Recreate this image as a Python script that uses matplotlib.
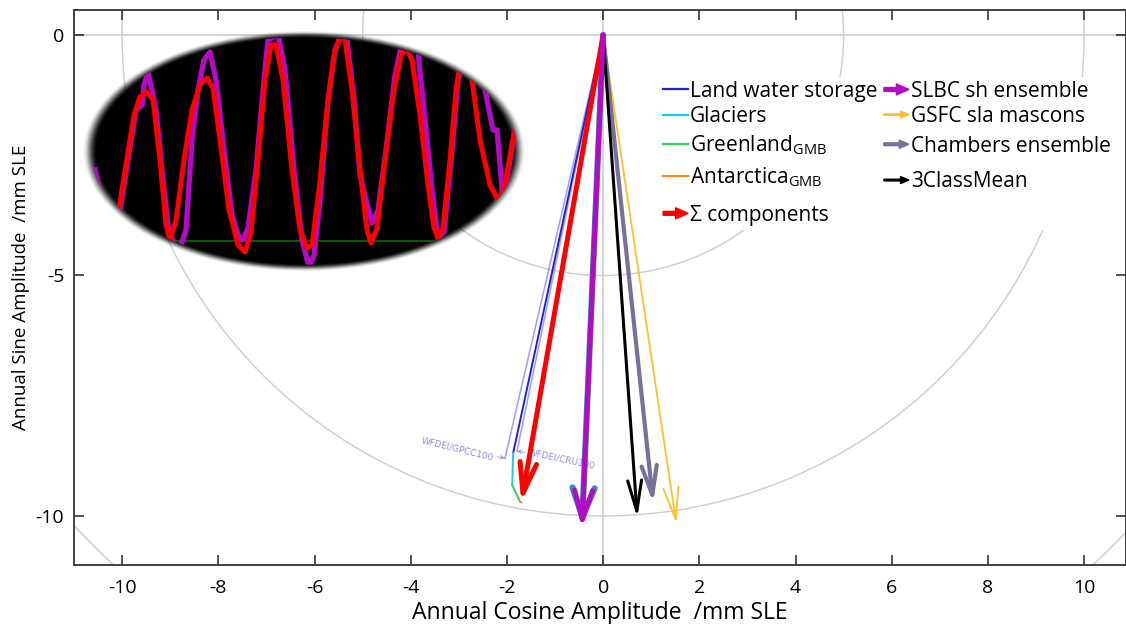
import matplotlib
matplotlib.use('Agg')
import matplotlib.pyplot as plt
import numpy as np
from matplotlib.patches import Circle, Ellipse, FancyArrowPatch, FancyArrow
from matplotlib.lines import Line2D
from matplotlib.legend_handler import HandlerBase, HandlerLine2D

plt.rcParams['font.family'] = ['Open Sans', 'DejaVu Sans']
plt.rcParams['mathtext.fontset'] = 'custom'
plt.rcParams['mathtext.rm'] = 'Open Sans'
plt.rcParams['axes.unicode_minus'] = False

# budget components, chained head to tail (cos, sin amplitude, mm SLE)
chain_names = ['Land water storage', 'Glaciers',
               'Greenland$_{\\mathrm{GMB}}$', 'Antarctica$_{\\mathrm{GMB}}$']
chain_x = [0.0, -1.87, -1.89, -1.73, -1.70]
chain_y = [0.0, -8.69, -9.36, -9.70, -9.72]
chain_colors = ['#2323c8', '#1ec8f0', '#2ed15c', '#ff8a24']

# land water storage variants
lws_names = ['WFDEI/GPCC100', 'WFDEI/CRU100']
lws_x = [-2.04, -1.79]
lws_y = [-8.80, -8.65]

# summed components and observations
arrow_names = ['\u03a3 components', 'SLBC sh ensemble', 'GSFC sla mascons',
               'Chambers ensemble', '3ClassMean']
arrow_x = [-1.70, -0.44, 1.52, 1.04, 0.71]
arrow_y = [-9.72, -10.25, -10.15, -9.73, -10.04]
arrow_colors = ['#ff0000', '#b40ac4', '#fcc02e', '#77709c', '#000000']

ring_radii = [5, 10, 15]
xticks = [-10, -8, -6, -4, -2, 0, 2, 4, 6, 8, 10]
yticks = [-10, -5, 0]

# inset (magnified time series), in inset pixel units
red_t = [112, 118, 126, 134, 140, 147, 153, 160, 166, 170, 176, 184, 192, 200, 207, 213, 220, 229,
         238, 245, 251, 258, 265, 271, 276, 283, 292, 300, 307, 312, 319, 327, 334, 340, 345, 352,
         360, 367, 371, 377, 385, 394, 401, 406, 412, 420, 428, 434, 438, 443, 450, 456, 461, 466,
         472, 480, 490, 498, 504, 511, 518, 526]
red_v = [250, 215, 165, 115, 97, 92, 100, 160, 225, 240, 220, 160, 110, 85, 78, 88, 140, 210,
         245, 252, 232, 160, 80, 45, 45, 80, 170, 230, 248, 245, 190, 110, 55, 37, 40, 90,
         170, 230, 243, 228, 160, 90, 55, 48, 60, 115, 185, 228, 238, 228, 160, 90, 58, 52,
         80, 140, 185, 200, 190, 150, 112, 80]
mag_t = [95, 100, 108, 115, 120, 128, 136, 142, 144, 148, 152, 156, 162, 168, 174, 180, 186, 192,
         198, 204, 210, 216, 224, 232, 238, 243, 248, 256, 264, 268, 278, 285, 294, 302, 309, 314,
         320, 328, 335, 341, 347, 354, 360, 366, 372, 378, 386, 395, 402, 410, 418, 424, 432, 438,
         444, 452, 458, 466, 476, 483, 493, 497, 503, 510, 518, 526]
mag_v = [170, 190, 235, 240, 210, 160, 110, 105, 85, 73, 90, 110, 170, 225, 245, 248, 230, 140,
         90, 60, 52, 80, 150, 215, 235, 240, 228, 170, 80, 40, 35, 70, 170, 240, 267, 255,
         200, 100, 50, 35, 40, 100, 175, 200, 223, 210, 150, 75, 43, 42, 52, 110, 190, 238,
         232, 150, 80, 50, 60, 80, 130, 130, 200, 160, 110, 80]
green_t = [170, 440]
green_v = [241, 241]


def pad_box(handlebox, fontsize, up, down):
    # make a legend row taller, like the MATLAB legend does for subscripts
    handlebox.height += (up + down) * fontsize
    handlebox.ydescent += down * fontsize


class LineHandler(HandlerLine2D):
    def __init__(self, up=0.0, down=0.0):
        super().__init__()
        self.up, self.down = up, down

    def legend_artist(self, legend, orig_handle, fontsize, handlebox):
        art = super().legend_artist(legend, orig_handle, fontsize, handlebox)
        pad_box(handlebox, fontsize, self.up, self.down)
        return art


class ArrowHandler(HandlerBase):
    def __init__(self, lw, hw, hl, up=0.0, down=0.0):
        super().__init__()
        self.lw, self.hw, self.hl, self.up, self.down = lw, hw, hl, up, down

    def create_artists(self, legend, orig_handle, xdescent, ydescent,
                       width, height, fontsize, trans):
        y = (height - ydescent) / 2
        a = FancyArrow(-xdescent, y, width, 0, width=self.lw, head_width=self.hw,
                       head_length=self.hl, length_includes_head=True,
                       color=orig_handle.get_color(), transform=trans)
        return [a]

    def legend_artist(self, legend, orig_handle, fontsize, handlebox):
        art = super().legend_artist(legend, orig_handle, fontsize, handlebox)
        pad_box(handlebox, fontsize, self.up, self.down)
        return art


W, H = 1126, 624
fig = plt.figure(figsize=(W / 100, H / 100), dpi=100)
ax = fig.add_axes([74 / W, 1 - 565 / H, 1052 / W, 555 / H])
ax.set_xlim(-11.0, 10.87)
ax.set_ylim(-11.02, 0.52)

grid_c = '#d0d0d0'
ax.axhline(0, color=grid_c, lw=1.3, zorder=1)
ax.axvline(0, color=grid_c, lw=1.3, zorder=1)
for r in ring_radii:
    ax.add_patch(Circle((0, 0), r, fill=False, ec=grid_c, lw=1.1, zorder=1))

# land water storage variants
for i in range(len(lws_names)):
    ax.plot([0, lws_x[i]], [0, lws_y[i]], color='#5a5ae0', alpha=0.55, lw=1.2, zorder=2)
ax.annotate(lws_names[0], xy=(lws_x[0], lws_y[0]), xytext=(-8, 0), textcoords='offset points',
            rotation=-14, rotation_mode='anchor', ha='right', va='center', fontsize=6.5,
            color='#8c8ce8', family='DejaVu Sans',
            arrowprops=dict(arrowstyle='->', color='#8c8ce8', lw=0.6, shrinkA=0, shrinkB=0))
ax.annotate(lws_names[1], xy=(lws_x[1], lws_y[1]), xytext=(8, -1), textcoords='offset points',
            rotation=-12, rotation_mode='anchor', ha='left', va='center', fontsize=6.5,
            color='#8c8ce8', family='DejaVu Sans',
            arrowprops=dict(arrowstyle='->', color='#8c8ce8', lw=0.6, shrinkA=0, shrinkB=0))

# chained components
for i in range(len(chain_names)):
    ax.plot(chain_x[i:i + 2], chain_y[i:i + 2], color=chain_colors[i], lw=1.4, zorder=3)

# arrows: (lw, head half width, head length) in points
styles = {0: (3.6, 6.0, 22), 1: (3.6, 6.5, 21), 2: (1.3, 5.5, 23), 3: (3.0, 5.5, 21), 4: (2.2, 5.0, 22)}
order = [2, 3, 4, 0, 1]
for i in order:
    lw, hw, hl = styles[i]
    if i == 1:
        ax.add_patch(FancyArrowPatch((0, 0), (arrow_x[i], arrow_y[i] + 0.05),
                                     arrowstyle=f'->,head_length={hl},head_width={hw + 1.5}',
                                     mutation_scale=1, lw=lw + 0.8, color='#2f8fb8',
                                     shrinkA=0, shrinkB=0, zorder=4))
    ax.add_patch(FancyArrowPatch((0, 0), (arrow_x[i], arrow_y[i]),
                                 arrowstyle=f'->,head_length={hl},head_width={hw}',
                                 mutation_scale=1, lw=lw, color=arrow_colors[i],
                                 shrinkA=0, shrinkB=0, zorder=5))

ax.set_xticks(xticks)
ax.set_yticks(yticks)
ax.tick_params(direction='in', top=True, right=True, length=7, width=1.2,
               color='#333333', labelsize=14)
ax.tick_params(axis='x', pad=10)
ax.tick_params(axis='y', pad=7)
for s in ax.spines.values():
    s.set_color('#333333')
    s.set_linewidth(1.3)
ax.set_xlabel('Annual Cosine Amplitude  /mm SLE', fontsize=16.5, labelpad=3)
ax.set_ylabel('Annual Sine Amplitude  /mm SLE', fontsize=13.5, labelpad=4)

# legend
handles, labels, hmap = [], [], {}
line_pad = {0: (0, 0), 1: (0, 0), 2: (0.28, 0.34), 3: (0.28, 0.83)}
for i in range(len(chain_names)):
    h = Line2D([], [], color=chain_colors[i], lw=1.6)
    hmap[h] = LineHandler(*line_pad[i])
    handles.append(h)
    labels.append(chain_names[i])
leg_style = {0: (2.8, 8, 9, 0, 0), 1: (2.8, 8, 9, 0, 0), 2: (1.0, 5, 6, 0, 0),
             3: (2.0, 6, 7, 0.28, 0.54), 4: (1.2, 5, 6, 0.28, 0.74)}
for i in range(len(arrow_names)):
    h = Line2D([], [], color=arrow_colors[i])
    hmap[h] = ArrowHandler(*leg_style[i])
    handles.append(h)
    labels.append(arrow_names[i])
leg = ax.legend(handles, labels, handler_map=hmap, ncol=2, loc='upper left',
                bbox_to_anchor=(0.556, 0.88), borderaxespad=0, borderpad=0.2,
                fontsize=15, handlelength=1.2, handletextpad=0.1, columnspacing=0.3,
                labelspacing=0.2, frameon=True, framealpha=1, facecolor='white',
                edgecolor='none', fancybox=False)

# magnified inset
x0, x1, y0, y1 = 80, 528, 28, 274
axi = fig.add_axes([x0 / W, 1 - y1 / H, (x1 - x0) / W, (y1 - y0) / H])
axi.set_xlim(x0, x1)
axi.set_ylim(y1, y0)
axi.axis('off')
cx, cy, a, b = (x0 + x1) / 2, (y0 + y1) / 2, (x1 - x0) / 2 - 2, (y1 - y0) / 2 - 2
gx, gy = np.meshgrid(np.linspace(x0, x1, 700), np.linspace(y0, y1, 380))
rr = np.sqrt(((gx - cx) / a) ** 2 + ((gy - cy) / b) ** 2)
alpha = np.clip((1 - rr) / 0.065, 0, 1)
alpha = alpha * alpha * (3 - 2 * alpha)
rgba = np.zeros(gx.shape + (4,))
rgba[..., 3] = alpha
axi.imshow(rgba, extent=(x0, x1, y1, y0), origin='upper', interpolation='bilinear',
           aspect='auto', zorder=0)
clip = Ellipse((cx, cy), 2 * a * 0.96, 2 * b * 0.94, transform=axi.transData)
for t, v, c, lw in [(green_t, green_v, '#0a6a0a', 1.2), (mag_t, mag_v, '#b40ac4', 3.8),
                    (red_t, red_v, '#ff0000', 3.6)]:
    ln, = axi.plot(t, v, color=c, lw=lw, solid_joinstyle='round', zorder=2)
    ln.set_clip_path(clip)

fig.savefig('out.png', dpi=100)
